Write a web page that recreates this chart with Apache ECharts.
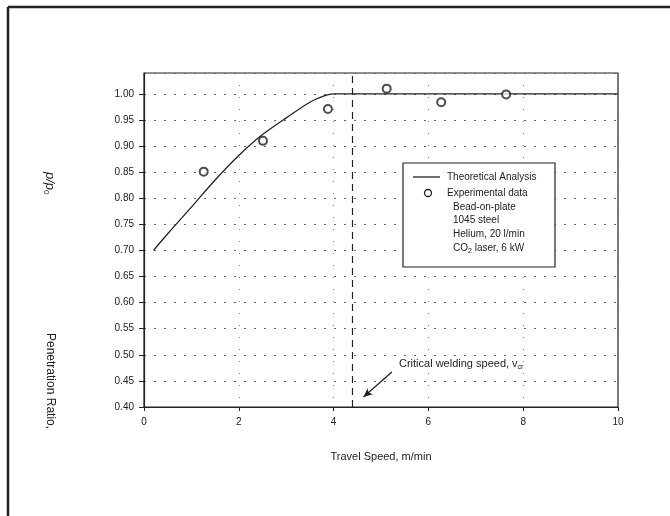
<!DOCTYPE html>
<html><head><meta charset="utf-8">
<script src="https://cdn.jsdelivr.net/npm/echarts@6/dist/echarts.min.js"></script>
<style>html,body{margin:0;padding:0;background:#fff}#c{width:670px;height:516px}</style>
</head><body><div id="c"></div>
<script>
const theoX = [0.2, 0.5, 1.0, 1.5, 2.0, 2.5, 3.0, 3.5, 3.8, 4.0, 10];
const theoY = [0.700, 0.732, 0.783, 0.835, 0.882, 0.922, 0.954, 0.984, 0.996, 1.000, 1.000];
const expX = [1.26, 2.51, 3.88, 5.12, 6.27, 7.64];
const expY = [0.851, 0.910, 0.971, 1.010, 0.984, 0.999];
const criticalSpeed = 4.4;
const arrowFrom = [5.23, 0.467];
const arrowTo = [4.63, 0.419];
const legendLines = ['Theoretical Analysis', 'Experimental data', 'Bead-on-plate', '1045 steel', 'Helium, 20 l/min'];

const FONT = 'Liberation Sans, Arial, sans-serif';
const chart = echarts.init(document.getElementById('c'));
const pair = (xs, ys) => xs.map((x, i) => [x, ys[i]]);

chart.setOption({
  animation: false,
  backgroundColor: '#fff',
  grid: { left: 144, right: 52, top: 73, bottom: 109, show: true, borderColor: '#222', borderWidth: 1.2 },
  xAxis: {
    type: 'value', min: 0, max: 10, interval: 2,
    axisLine: { lineStyle: { color: '#222', width: 1.2 } },
    axisTick: { inside: false, length: 4, lineStyle: { color: '#222' } },
    axisLabel: { color: '#222', fontFamily: FONT, fontSize: 10, margin: 10 },
    splitLine: { show: true, lineStyle: { color: '#888', type: [1, 11], width: 1 } },
    name: 'Travel Speed, m/min', nameLocation: 'middle', nameGap: 44,
    nameTextStyle: { color: '#222', fontFamily: FONT, fontSize: 11 }
  },
  yAxis: {
    type: 'value', min: 0.40, max: 1.04, interval: 0.05,
    axisLine: { show: true, lineStyle: { color: '#222', width: 1.2 } },
    axisTick: { length: 5, lineStyle: { color: '#222' } },
    axisLabel: { color: '#222', fontFamily: FONT, fontSize: 10, margin: 10, showMaxLabel: false,
      formatter: v => v.toFixed(2) },
    splitLine: { show: true, lineStyle: { color: '#666', type: [2, 8], width: 1 } }
  },
  series: [
    {
      name: 'Theoretical Analysis', type: 'line', data: pair(theoX, theoY), smooth: 0.3,
      showSymbol: false, lineStyle: { color: '#222', width: 1.3 },
      markLine: {
        silent: true, symbol: 'none', label: { show: false },
        lineStyle: { color: '#222', type: [7, 5], width: 1.2 },
        data: [
          [{ coord: [criticalSpeed, 0.40] }, { coord: [criticalSpeed, 1.04] }],
          [{ coord: arrowFrom, symbol: 'none' }, { coord: arrowTo, symbol: 'arrow', symbolSize: [6, 9], lineStyle: { type: 'solid', width: 1.3 } }]
        ]
      }
    },
    {
      name: 'Experimental data', type: 'scatter', data: pair(expX, expY), z: 5,
      symbol: 'emptyCircle', symbolSize: 8,
      itemStyle: { color: '#222', borderColor: '#222', borderWidth: 1.3 }
    }
  ],
  graphic: [
    { type: 'line', shape: { x1: 8, y1: 7, x2: 670, y2: 7 }, style: { stroke: '#222', lineWidth: 2.5 } },
    { type: 'line', shape: { x1: 8, y1: 7, x2: 8, y2: 516 }, style: { stroke: '#222', lineWidth: 2.5 } },
    { type: 'rect', shape: { x: 403, y: 163, width: 152, height: 104 }, style: { fill: '#fff', stroke: '#222', lineWidth: 1.2 }, z: 10 },
    { type: 'line', shape: { x1: 413, y1: 177, x2: 440, y2: 177 }, style: { stroke: '#222', lineWidth: 1.3 }, z: 11 },
    { type: 'circle', shape: { cx: 428, cy: 193, r: 3.5 }, style: { fill: '#fff', stroke: '#222', lineWidth: 1.3 }, z: 11 },
    { type: 'text', x: 447, y: 177, z: 11, style: { text: legendLines[0], fill: '#222', font: '10px ' + FONT, verticalAlign: 'middle' } },
    { type: 'text', x: 447, y: 193, z: 11, style: { text: legendLines[1], fill: '#222', font: '10px ' + FONT, verticalAlign: 'middle' } },
    { type: 'text', x: 453, y: 207, z: 11, style: { text: legendLines[2], fill: '#222', font: '10px ' + FONT, verticalAlign: 'middle' } },
    { type: 'text', x: 453, y: 220, z: 11, style: { text: legendLines[3], fill: '#222', font: '10px ' + FONT, verticalAlign: 'middle' } },
    { type: 'text', x: 453, y: 234, z: 11, style: { text: legendLines[4], fill: '#222', font: '10px ' + FONT, verticalAlign: 'middle' } },
    { type: 'text', x: 453, y: 248, z: 11, style: { text: '{a|CO}{s|2}{a| laser, 6 kW}', fill: '#222', verticalAlign: 'middle',
        rich: { a: { font: '10px ' + FONT, fill: '#222' }, s: { font: '7px ' + FONT, fill: '#222', padding: [6, 0, 0, 0] } } } },
    { type: 'text', x: 399, y: 364, z: 11, style: { text: '{a|Critical welding speed, v}{s|cr}', fill: '#222', verticalAlign: 'middle',
        rich: { a: { font: '11px ' + FONT, fill: '#222' }, s: { font: '7px ' + FONT, fill: '#222', padding: [7, 0, 0, 0] } } } },
    { type: 'text', x: 50, y: 333, rotation: -Math.PI / 2, style: { text: 'Penetration Ratio,', fill: '#222', font: '12px ' + FONT, align: 'left', verticalAlign: 'middle' } },
    { type: 'text', x: 50, y: 172, rotation: -Math.PI / 2, style: { text: '{a|p/p}{s|0}', verticalAlign: 'middle',
        rich: { a: { font: 'italic 13px ' + FONT, fill: '#222' }, s: { font: '8px ' + FONT, fill: '#222', padding: [7, 0, 0, 0] } } } }
  ]
});
</script></body></html>
